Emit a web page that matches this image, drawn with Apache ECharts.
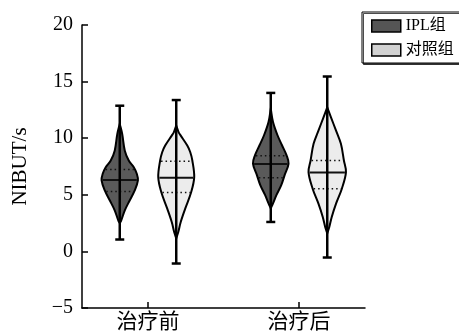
<!DOCTYPE html>
<html>
<head>
<meta charset="utf-8">
<script src="https://cdn.jsdelivr.net/npm/echarts@6/dist/echarts.min.js"></script>
<style>html,body{margin:0;padding:0;background:#fff}#c{width:459px;height:335px}</style>
</head>
<body>
<div id="c"></div>
<script>
// ---- data ----
const categories = ['治疗前', '治疗后'];
const seriesNames = ['IPL组', '对照组'];
const yTicks = [-5, 0, 5, 10, 15, 20];
// five-number summaries per category: [min, q1, median, q3, max]
const iplStats = [[1.05, 5.3, 6.3, 7.23, 12.87], [2.6, 6.5, 7.72, 8.44, 14.0]];
const ctrlStats = [[-1.07, 5.2, 6.5, 7.97, 13.37], [-0.54, 5.54, 6.98, 8.03, 15.45]];
// kernel density profiles (value, relative density 0..1)
const iplPreV = [2.5, 2.75, 3.63, 4.5, 5.39, 6.27, 6.86, 7.44, 8.03, 8.9, 10.38, 11.26];
const iplPreD = [0, 0.08, 0.27, 0.53, 0.80, 0.97, 0.91, 0.75, 0.48, 0.27, 0.13, 0];
const ctrlPreV = [1.14, 1.72, 2.6, 3.78, 5.24, 6.56, 8.03, 8.76, 9.35, 10.23, 10.52, 11.11];
const ctrlPreD = [0, 0.11, 0.24, 0.48, 0.80, 0.96, 0.86, 0.75, 0.59, 0.24, 0.13, 0];
const iplPostV = [3.8, 4.24, 4.97, 5.86, 6.74, 7.76, 8.5, 9.38, 10.26, 11.43, 12.6];
const iplPostD = [0, 0.12, 0.30, 0.56, 0.74, 0.95, 0.84, 0.60, 0.36, 0.12, 0];
const ctrlPostV = [1.58, 2.16, 3.04, 4.22, 5.54, 7.0, 8.03, 9.5, 10.67, 11.84, 12.72];
const ctrlPostD = [0, 0.11, 0.24, 0.47, 0.78, 1.0, 0.89, 0.73, 0.47, 0.20, 0];

const iplProfiles = [[iplPreV, iplPreD], [iplPostV, iplPostD]];
const ctrlProfiles = [[ctrlPreV, ctrlPreD], [ctrlPostV, ctrlPostD]];

// ---- style ----
const HALF = 0.124;      // max half-width in x-axis units
const OFFSET = 0.187;    // group offset in x-axis units
const FONT = '"Liberation Serif", "Noto Sans CJK SC", serif';

function widthAt(prof, v) {
  const V = prof[0], D = prof[1];
  if (v <= V[0] || v >= V[V.length - 1]) return 0;
  for (let i = 0; i < V.length - 1; i++) {
    if (v >= V[i] && v <= V[i + 1]) {
      const t = (v - V[i]) / (V[i + 1] - V[i]);
      return D[i] + t * (D[i + 1] - D[i]);
    }
  }
  return 0;
}

function makeRender(stats, profiles, off, fill) {
  return function (params, api) {
    const i = params.dataIndex;
    const cat = api.value(0);
    const cx = cat + off;
    const s = stats[i];
    const prof = profiles[i];
    const V = prof[0], D = prof[1];
    const right = [], left = [];
    for (let k = 0; k < V.length; k++) {
      right.push(api.coord([cx + D[k] * HALF, V[k]]));
    }
    for (let k = V.length - 1; k >= 0; k--) {
      left.push(api.coord([cx - D[k] * HALF, V[k]]));
    }
    const pts = right.concat(left);
    const children = [];
    children.push({
      type: 'polygon',
      shape: { points: pts, smooth: 0.35 },
      style: { fill: fill, stroke: '#000', lineWidth: 2 }
    });
    function hline(v, dash, lw) {
      const w = widthAt(prof, v) * HALF;
      const a = api.coord([cx - w, v]), b = api.coord([cx + w, v]);
      return {
        type: 'line',
        shape: { x1: a[0] + 1, y1: a[1], x2: b[0] - 1, y2: b[1] },
        style: { stroke: '#111', lineWidth: lw, lineDash: dash }
      };
    }
    children.push(hline(s[1], [1.5, 3], 1.5));
    children.push(hline(s[3], [1.5, 3], 1.5));
    children.push(hline(s[2], null, 2));
    const top = api.coord([cx, s[4]]), bot = api.coord([cx, s[0]]);
    children.push({
      type: 'line', shape: { x1: top[0], y1: top[1], x2: bot[0], y2: bot[1] },
      style: { stroke: '#000', lineWidth: 2.5 }
    });
    [top, bot].forEach(function (p) {
      children.push({
        type: 'line', shape: { x1: p[0] - 4.5, y1: p[1], x2: p[0] + 4.5, y2: p[1] },
        style: { stroke: '#000', lineWidth: 2.5 }
      });
    });
    return { type: 'group', children: children };
  };
}

const chart = echarts.init(document.getElementById('c'), null, { renderer: 'canvas' });
chart.setOption({
  animation: false,
  backgroundColor: '#fff',
  grid: { left: 82, right: 94, top: 25, bottom: 27 },
  legend: {
    orient: 'vertical',
    left: 362, top: 12,
    padding: [6, 6, 5, 9],
    itemWidth: 29, itemHeight: 12, itemGap: 8,
    borderColor: '#000', borderWidth: 1,
    backgroundColor: '#fff',
    shadowColor: 'rgba(0,0,0,0.7)', shadowOffsetX: 1.5, shadowOffsetY: 1.5, shadowBlur: 0,
    textStyle: { fontFamily: FONT, fontSize: 16, color: '#000' },
    data: [
      { name: seriesNames[0], icon: 'rect', itemStyle: { color: '#555', borderColor: '#000', borderWidth: 1.5 } },
      { name: seriesNames[1], icon: 'rect', itemStyle: { color: '#d2d2d2', borderColor: '#000', borderWidth: 1.5 } }
    ]
  },
  xAxis: {
    type: 'value', min: 0.563, max: 2.437,
    axisLine: { onZero: false, lineStyle: { color: '#000', width: 1.5 } },
    axisTick: { inside: true, length: 6, customValues: [1, 2], lineStyle: { color: '#000', width: 1.5 } },
    axisLabel: {
      customValues: [1, 2], margin: 4,
      formatter: function (v) { return categories[Math.round(v) - 1]; },
      fontFamily: FONT, fontSize: 21, color: '#000'
    },
    splitLine: { show: false }
  },
  yAxis: {
    type: 'value', min: yTicks[0], max: yTicks[yTicks.length - 1], interval: 5,
    name: 'NIBUT/s', nameLocation: 'middle', nameGap: 51,
    nameTextStyle: { fontFamily: FONT, fontSize: 21, color: '#000' },
    axisLine: { show: true, onZero: false, lineStyle: { color: '#000', width: 1.5 } },
    axisTick: { show: true, inside: true, length: 6, lineStyle: { color: '#000', width: 1.5 } },
    axisLabel: {
      margin: 9, fontFamily: FONT, fontSize: 20, color: '#000',
      formatter: function (v) { return v < 0 ? '\u2212' + (-v) : String(v); }
    },
    splitLine: { show: false }
  },
  series: [
    {
      name: seriesNames[0], type: 'custom',
      itemStyle: { color: '#555' },
      renderItem: makeRender(iplStats, iplProfiles, -OFFSET, '#5a5a5a'),
      encode: { x: 0, y: [1, 2, 3, 4, 5] },
      data: iplStats.map(function (s, i) { return [i + 1].concat(s); })
    },
    {
      name: seriesNames[1], type: 'custom',
      itemStyle: { color: '#d2d2d2' },
      renderItem: makeRender(ctrlStats, ctrlProfiles, OFFSET, '#ececec'),
      encode: { x: 0, y: [1, 2, 3, 4, 5] },
      data: ctrlStats.map(function (s, i) { return [i + 1].concat(s); })
    }
  ]
});
</script>
</body>
</html>
